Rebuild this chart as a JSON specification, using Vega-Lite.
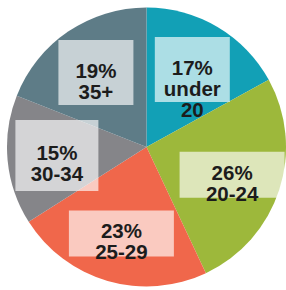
{
  "$schema": "https://vega.github.io/schema/vega-lite/v6.json",
  "width": 279,
  "height": 280,
  "padding": {"left": 7, "top": 7, "right": 0, "bottom": 3},
  "autosize": {"type": "none"},
  "background": "white",
  "config": {"view": {"stroke": null}},
  "data": {
    "values": [
      {"group": "under 20", "pct": 17},
      {"group": "20-24", "pct": 26},
      {"group": "25-29", "pct": 23},
      {"group": "30-34", "pct": 15},
      {"group": "35+", "pct": 19}
    ]
  },
  "transform": [{"window": [{"op": "row_number", "as": "i"}]}],
  "layer": [
    {
      "mark": {"type": "arc"},
      "encoding": {
        "theta": {"field": "pct", "type": "quantitative", "stack": true},
        "order": {"field": "i", "type": "quantitative"},
        "color": {
          "field": "group",
          "type": "nominal",
          "scale": {
            "domain": ["under 20", "20-24", "25-29", "30-34", "35+"],
            "range": ["#12a0b6", "#9db83b", "#f0674b", "#858589", "#5e7c87"]
          },
          "legend": null
        }
      }
    },
    {
      "transform": [
        {"stack": "pct", "groupby": [], "as": ["p0", "p1"], "sort": [{"field": "i", "order": "ascending"}]},
        {"calculate": "PI * (datum.p0 + datum.p1) / 100", "as": "a"},
        {"calculate": "90 * sin(datum.a)", "as": "lx"},
        {"calculate": "90 * cos(datum.a)", "as": "ly"},
        {"calculate": "datum.pct + '%\\n' + replace(datum.group, ' ', '\\n')", "as": "label"}
      ],
      "encoding": {
        "x": {"field": "lx", "type": "quantitative", "scale": {"domain": [-139.5, 139.5], "nice": false, "zero": false}, "axis": null},
        "y": {"field": "ly", "type": "quantitative", "scale": {"domain": [-140, 140], "nice": false, "zero": false}, "axis": null}
      },
      "layer": [
        {
          "mark": {"type": "point", "filled": true, "size": 4, "color": "white", "opacity": 0.65, "strokeWidth": 0},
          "encoding": {
            "shape": {
              "field": "group",
              "type": "nominal",
              "scale": {
                "domain": ["under 20", "20-24", "25-29", "30-34", "35+"],
                "range": [
                  "M-37.5,-32.5H37.5V32.5H-37.5Z",
                  "M-52.5,-23H52.5V23H-52.5Z",
                  "M-52.5,-23H52.5V23H-52.5Z",
                  "M-41.5,-35.5H41.5V35.5H-41.5Z",
                  "M-37.5,-32.5H37.5V32.5H-37.5Z"
                ]
              },
              "legend": null
            }
          }
        },
        {
          "mark": {
            "type": "text",
            "lineBreak": "\n",
            "font": "Liberation Sans",
            "fontWeight": "bold",
            "fontSize": 20.5,
            "lineHeight": 21,
            "color": "#1c1c1c",
            "align": "center",
            "baseline": "middle",
            "dy": -1
          },
          "encoding": {"text": {"field": "label", "type": "nominal"}}
        }
      ]
    }
  ]
}
